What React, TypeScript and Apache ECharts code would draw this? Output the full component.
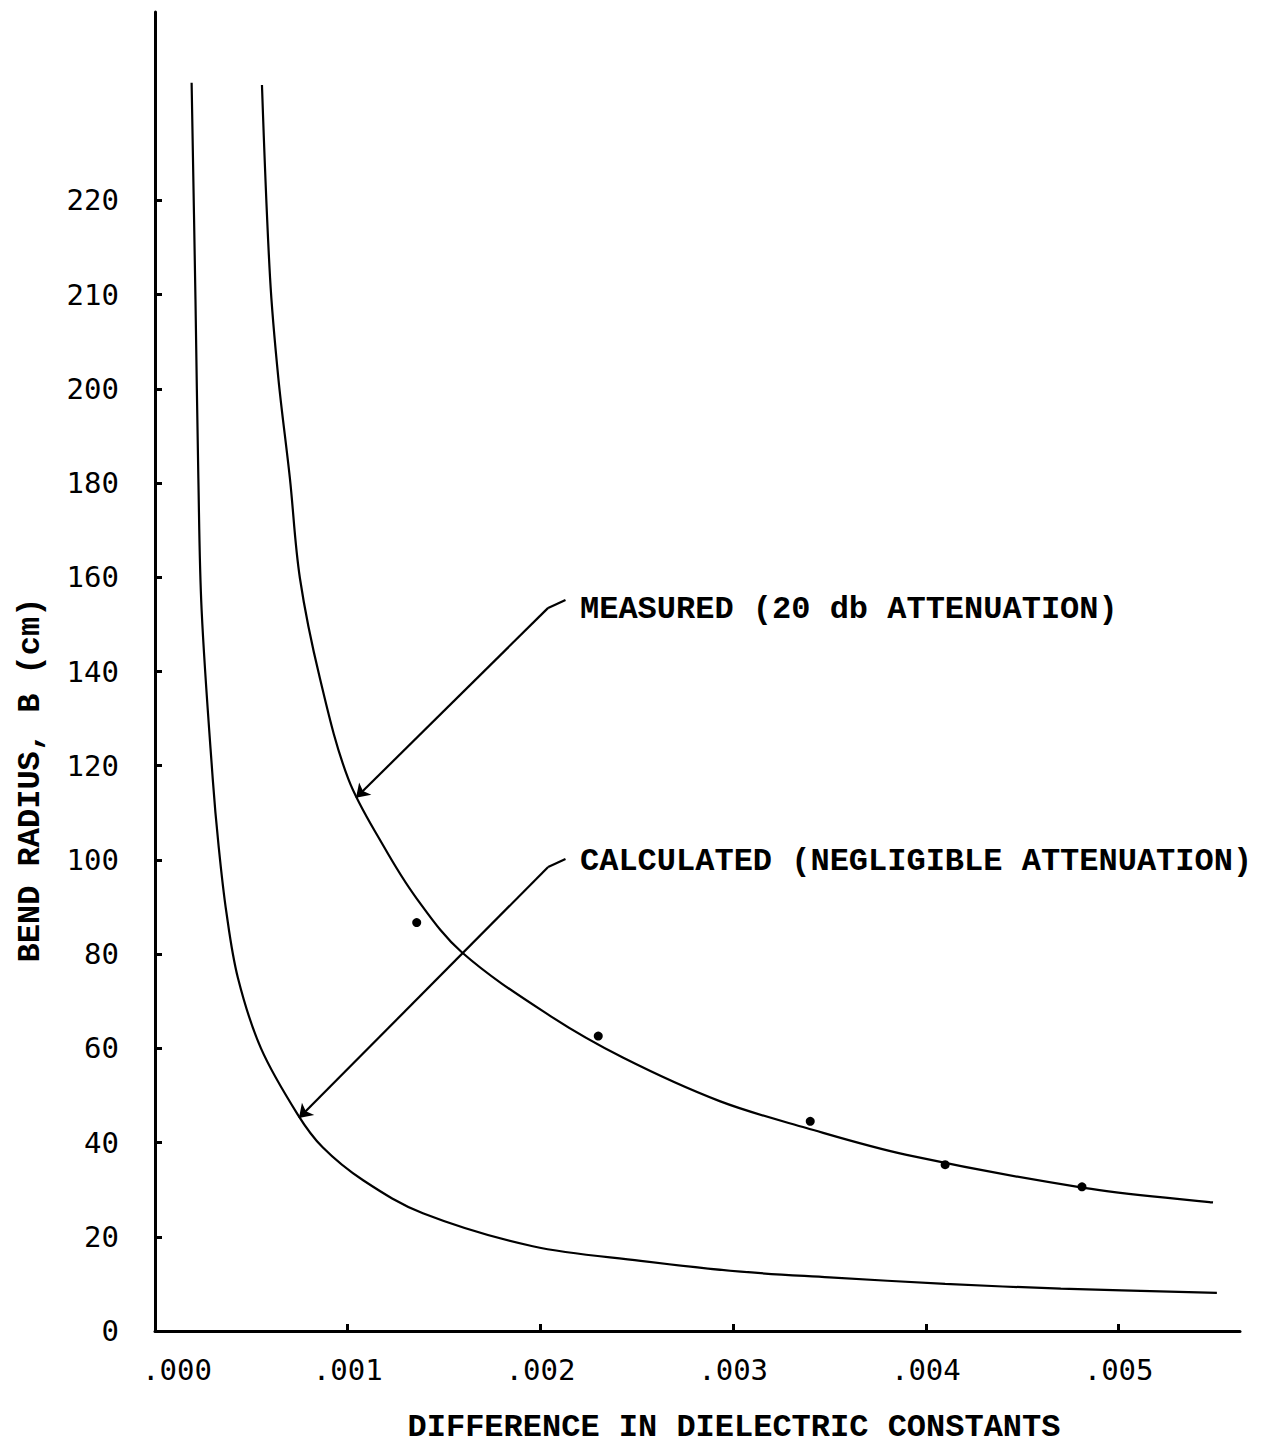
import React, { useEffect, useRef } from "react";
import * as echarts from "echarts";

// Calculated curve (negligible attenuation)
const calcX = [0.00019, 0.00021, 0.000225, 0.000242, 0.0003, 0.00033, 0.00037, 0.00043, 0.00055, 0.00074, 0.00087, 0.00108, 0.00139, 0.00196, 0.00252, 0.00304, 0.0035, 0.0041, 0.0047, 0.00551];
const calcY = [265, 219, 181, 153, 117, 103, 89, 75, 60, 46, 39, 32, 25, 18, 14.9, 12.6, 11.4, 10, 9, 8.1];

// Measured curve (20 db attenuation)
const measX = [0.000555, 0.000597, 0.00064, 0.0007, 0.000752, 0.000856, 0.001003, 0.001185, 0.001358, 0.001592, 0.00205, 0.00243, 0.00293, 0.00338, 0.0039, 0.00482, 0.00549];
const measY = [264.5, 223.6, 202.3, 181, 159.8, 138.5, 117.2, 103, 91.8, 80.4, 66.9, 58, 48.8, 43.1, 37.4, 30.4, 27.3];

// Measured points
const ptsX = [0.001358, 0.0023, 0.0034, 0.0041, 0.00481];
const ptsY = [86.7, 62.6, 44.5, 35.3, 30.6];

// Axis ticks
const xTickValues = [0, 0.001, 0.002, 0.003, 0.004, 0.005];
const xTickLabels = [".000", ".001", ".002", ".003", ".004", ".005"];
const yTickValues = [0, 20, 40, 60, 80, 100, 120, 140, 160, 180, 200, 220, 240];
const yTickLabels = ["0", "20", "40", "60", "80", "100", "120", "140", "160", "180", "200", "210", "220"];

// Annotation arrows (data coordinates)
const measuredArrow = [[0.00204, 153.5], [0.001043, 113.2]];
const measuredHook = [[0.00204, 153.5], [0.00213, 155.2]];
const calculatedArrow = [[0.00204, 98.5], [0.000747, 45.2]];
const calculatedHook = [[0.00204, 98.5], [0.00213, 100.2]];

const measuredText = "MEASURED (20 db ATTENUATION)";
const calculatedText = "CALCULATED (NEGLIGIBLE ATTENUATION)";
const xTitle = "DIFFERENCE IN DIELECTRIC CONSTANTS";
const yTitle = "BEND RADIUS, B (cm)";

const TITLE_FONT = "Liberation Mono";
const TICK_FONT = "DejaVu Sans Mono";

export default function App() {
  const ref = useRef<HTMLDivElement>(null);
  useEffect(() => {
    if (!ref.current) return;
    const chart = echarts.init(ref.current, undefined, { renderer: "svg" });
    const findIdx = (arr: number[], v: number) => arr.findIndex((a) => Math.abs(a - v) < 1e-9);
    const option: any = {
      animation: false,
      backgroundColor: "#fff",
      grid: { left: 155, right: 26, top: 12, bottom: 114, containLabel: false },
      xAxis: {
        type: "value",
        min: 0,
        max: 0.00563,
        axisLine: { show: true, onZero: false, lineStyle: { color: "#000", width: 3 } },
        axisTick: { show: true, inside: true, length: 7, lineStyle: { color: "#000", width: 3 }, customValues: xTickValues.slice(1) },
        axisLabel: {
          customValues: xTickValues,
          color: "#000",
          fontFamily: TICK_FONT,
          fontSize: 29,
          margin: 24,
          formatter: (v: number) => {
            const i = findIdx(xTickValues, v);
            if (i < 0) return "";
            return i === 0 ? "{z|" + xTickLabels[i] + "}" : xTickLabels[i];
          },
          rich: { z: { padding: [0, 0, 0, 44], fontFamily: TICK_FONT, fontSize: 29, color: "#000" } },
        },
        splitLine: { show: false },
      },
      yAxis: {
        type: "value",
        min: 0,
        max: 280,
        axisLine: { show: true, onZero: false, lineStyle: { color: "#000", width: 3 } },
        axisTick: { show: true, inside: true, length: 7, lineStyle: { color: "#000", width: 3 }, customValues: yTickValues.slice(1) },
        axisLabel: {
          customValues: yTickValues,
          color: "#000",
          fontFamily: TICK_FONT,
          fontSize: 29,
          margin: 36,
          formatter: (v: number) => {
            const i = findIdx(yTickValues, v);
            return i < 0 ? "" : yTickLabels[i];
          },
        },
        splitLine: { show: false },
      },
      series: [
        {
          type: "line",
          data: calcX.map((x, i) => [x, calcY[i]]),
          smooth: 0.35,
          symbol: "none",
          lineStyle: { color: "#000", width: 2.2 },
          silent: true,
        },
        {
          type: "line",
          data: measX.map((x, i) => [x, measY[i]]),
          smooth: 0.35,
          symbol: "none",
          lineStyle: { color: "#000", width: 2.2 },
          silent: true,
        },
        {
          type: "scatter",
          data: ptsX.map((x, i) => [x, ptsY[i]]),
          symbolSize: 9,
          itemStyle: { color: "#000", opacity: 1 },
          silent: true,
          markLine: {
            silent: true,
            symbol: ["none", "arrow"],
            symbolSize: 13,
            label: { show: false },
            lineStyle: { color: "#000", width: 2.2, type: "solid", opacity: 1 },
            data: [
              [{ coord: measuredArrow[0], symbol: "none" }, { coord: measuredArrow[1], symbol: "arrow" }],
              [{ coord: calculatedArrow[0], symbol: "none" }, { coord: calculatedArrow[1], symbol: "arrow" }],
              [{ coord: measuredHook[0], symbol: "none" }, { coord: measuredHook[1], symbol: "none" }],
              [{ coord: calculatedHook[0], symbol: "none" }, { coord: calculatedHook[1], symbol: "none" }],
            ],
          },
        },
      ],
      graphic: [
        {
          type: "text",
          x: 580,
          y: 609,
          style: { text: measuredText, fontFamily: TITLE_FONT, fontWeight: "bold", fontSize: 32, fill: "#000", align: "left", verticalAlign: "middle" },
        },
        {
          type: "text",
          x: 580,
          y: 861,
          style: { text: calculatedText, fontFamily: TITLE_FONT, fontWeight: "bold", fontSize: 32, fill: "#000", align: "left", verticalAlign: "middle" },
        },
        {
          type: "text",
          x: 734,
          y: 1427,
          style: { text: xTitle, fontFamily: TITLE_FONT, fontWeight: "bold", fontSize: 32, fill: "#000", align: "center", verticalAlign: "middle" },
        },
        {
          type: "text",
          x: 30,
          y: 780,
          rotation: Math.PI / 2,
          style: { text: yTitle, fontFamily: TITLE_FONT, fontWeight: "bold", fontSize: 32, fill: "#000", align: "center", verticalAlign: "middle" },
        },
      ],
    };
    chart.setOption(option);
    return () => chart.dispose();
  }, []);
  return (
    <div
      ref={ref}
      style={{ position: "fixed", left: 0, top: 0, width: 1266, height: 1445, background: "#fff" }}
    />
  );
}
